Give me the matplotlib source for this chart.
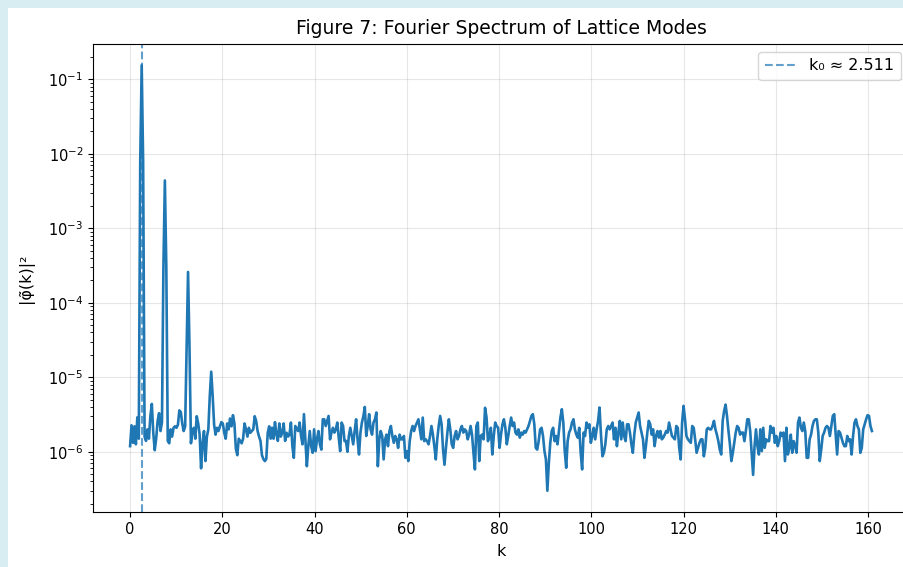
import numpy as np
import matplotlib
matplotlib.use("Agg")
import matplotlib.pyplot as plt
from matplotlib.patches import Rectangle
from matplotlib.ticker import NullFormatter

# grid spacing of the spectrum and marked wavenumber
DK = 0.31416
K0 = 2.511
X_TICKS = [0, 20, 40, 60, 80, 100, 120, 140, 160]
Y_TICKS = [1e-6, 1e-5, 1e-4, 1e-3, 1e-2, 1e-1]

# |phi(k)|^2 values in units of 1e-6 (one per k bin)
seg_a = [1.19, 2.27, 1.32, 2.2, 1.26, 2.9, 1.5, 8000, 155000, 8000,
         1.6, 1.4, 2.0, 1.5, 3.0, 4.4, 1.8, 1.05, 1.5, 2.6,
         3.3, 1.9, 2.5, 300, 4400, 300, 1.4, 1.3, 2.0, 1.6,
         2.1, 2.2, 2.1, 2.3, 3.6, 3.4, 2.4, 1.9, 2.2, 25,
         260, 25, 1.3, 1.9, 2.1, 1.5, 3.0, 2.4, 1.7, 0.6,
         1.3, 1.9, 0.75, 1.6, 2.0, 5.6, 11.9, 5.6, 2.3, 1.7,
         2.1, 1.9, 2.2, 2.5, 2.4, 1.8, 1.5, 2.4, 2.0, 2.8,
         2.2, 3.1, 2.4, 1.1, 0.9, 1.5, 1.4, 1.3, 1.5, 2.4,
         2.0, 1.6, 2.1, 1.8, 1.9, 2.0, 3.0, 2.6, 1.9, 1.6,
         1.4, 0.9, 0.8, 0.75, 0.8, 1.8, 2.2, 1.5, 2.1, 1.5,
         2.5, 1.7, 1.4, 2.4, 1.6, 1.8, 2.4, 1.4, 1.8, 1.6]
seg_b = [1.7, 2.47, 1.19, 0.83, 2.22, 2.0, 1.9, 2.47, 1.63, 1.26,
         3.2, 1.47, 0.64, 1.19, 1.9, 1.19, 0.97, 2.0, 1.02, 1.47,
         1.9, 1.26, 1.07, 2.73, 2.73, 2.22, 2.6, 3.03, 1.47, 1.81,
         2.1, 1.81, 2.0, 2.47, 1.55, 1.02, 2.47, 2.22, 1.39, 1.4,
         1.0, 1.63, 2.1, 1.63, 1.26, 1.9, 2.73, 1.47, 0.92, 1.81,
         2.47, 3.0, 4.0, 1.63, 2.22, 3.2, 2.0, 1.7, 2.47, 2.73]
seg_c = [3.37, 0.64, 1.47, 1.9, 1.63, 0.79, 1.47, 1.7, 1.19, 1.9,
         2.22, 1.63, 1.32, 1.63, 1.47, 1.13, 1.7, 1.47, 1.47, 1.63,
         0.83, 1.02, 0.75, 1.39, 1.9, 2.22, 1.9, 2.22, 2.47, 2.73,
         2.0, 1.47, 2.88, 1.39, 1.47, 1.39, 1.26, 1.63, 2.22, 1.7,
         1.19, 0.79, 1.47, 2.22, 3.03, 2.34, 1.07, 0.67, 1.13, 1.81,
         2.73, 2.0, 1.26, 1.13, 1.63, 1.9, 1.47, 1.63, 2.0, 2.22,
         1.81, 2.0, 1.9, 1.47, 1.7, 2.22, 1.7, 0.97, 0.58, 2.22,
         2.47, 0.75, 1.63, 1.7, 1.47, 3.9, 2.9, 1.39, 1.63, 2.1,
         0.92, 1.63, 2.47, 2.22]
seg_d = [2.1, 1.13, 1.7, 2.34, 2.73, 2.1, 1.26, 1.63, 2.22, 2.88,
         2.22, 2.47, 1.81, 1.7, 2.0, 1.55, 1.81, 1.7, 1.9, 1.81,
         2.0, 2.22, 2.6, 3.03, 3.2, 2.34, 1.13, 1.07, 1.39, 2.0,
         2.1, 1.63, 1.02, 0.79, 0.30, 0.7, 1.32, 1.9, 2.1, 1.39,
         1.63, 1.26, 1.9, 2.88, 3.73, 2.47, 1.02, 0.61, 1.39, 1.81,
         2.0, 2.47, 2.73, 2.0, 1.7, 1.55, 2.1, 0.97, 0.58, 1.81,
         1.63, 2.47, 2.1, 2.34, 1.32, 1.63, 2.1, 1.47, 2.0, 2.6,
         3.93, 1.7, 0.87, 0.97, 1.26, 2.0, 2.22, 2.0, 2.22, 2.47,
         1.47, 2.1, 1.19, 1.81]
seg_e = [2.6, 1.47, 2.47, 1.63, 1.39, 2.34, 2.34, 1.81, 1.26, 0.97,
         1.7, 2.47, 2.88, 3.37, 2.22, 1.81, 1.47, 0.83, 1.19, 1.81,
         2.6, 2.34, 1.7, 2.0, 1.19, 1.63, 1.9, 1.55, 1.9, 1.47,
         1.55, 1.7, 1.9, 1.81, 2.47, 2.0, 1.63, 1.55, 1.47, 2.22,
         2.1, 1.13, 0.79, 2.47, 4.14, 2.73, 1.63, 1.47, 1.39, 1.32,
         2.22, 2.1, 1.47, 0.97, 1.13, 1.32, 1.47, 1.47, 0.87, 1.13,
         2.0, 2.1, 2.0, 2.0, 2.22, 2.6, 2.0, 1.7, 1.39, 1.07,
         0.92, 2.6, 3.54, 4.3, 3.0, 1.9, 1.26, 0.75, 0.97, 1.32,
         1.81, 2.22, 2.1, 1.7]
seg_f = [1.81, 1.81, 1.39, 1.9, 2.73, 2.73, 1.9, 0.97, 0.49, 1.19,
         2.0, 1.19, 0.92, 2.0, 1.02, 2.1, 1.13, 1.47, 1.39, 1.39,
         2.22, 1.81, 2.1, 1.32, 1.63, 1.19, 1.39, 1.81, 1.63, 1.81,
         0.75, 2.1, 0.92, 1.13, 1.7, 0.97, 1.39, 1.19, 0.97, 2.47,
         2.88, 2.1, 1.9, 2.47, 1.9, 0.83, 0.83, 1.47, 1.7, 2.22,
         2.6, 2.73, 2.73, 1.81, 0.75, 1.07, 1.63, 1.81, 2.1, 2.22,
         2.1, 1.63, 2.22, 3.03, 3.2, 1.7, 0.92, 1.9, 1.81, 1.55,
         1.32, 1.19, 1.19, 1.63, 1.39, 1.47, 0.92, 1.63, 2.47, 2.73,
         2.22, 2.0, 0.97, 1.13, 2.0, 2.34, 2.73, 3.1, 3.03, 2.22,
         1.9]

power = np.array(seg_a + seg_b + seg_c + seg_d + seg_e + seg_f) * 1e-6
k = np.arange(len(power)) * DK

fig = plt.figure(figsize=(9.04, 5.67), dpi=100)
fig.patch.set_facecolor('#d8edf2')
fig.add_artist(Rectangle((8 / 904, 0), 1, 1 - 8 / 567, transform=fig.transFigure,
                         facecolor='white', edgecolor='none', zorder=-10))

ax = fig.add_axes([93 / 904, 55 / 567, 816 / 904, 468 / 567])
ax.semilogy(k, power, color='#1f77b4', lw=1.9)
ax.axvline(K0, ls='--', color='#1f77b4', alpha=0.7, lw=1.5, label=f'k₀ ≈ {K0}')
ax.set_xticks(X_TICKS)
ax.set_yticks(Y_TICKS)
ax.yaxis.set_minor_formatter(NullFormatter())
ax.tick_params(labelsize=10.5)
ax.set_title('Figure 7: Fourier Spectrum of Lattice Modes', fontsize=13.5, pad=7)
ax.set_xlabel('k', fontsize=11.5, labelpad=5)
ax.set_ylabel('|φ̃(k)|²', fontsize=11.5, labelpad=10)
ax.grid(True, alpha=0.3)
ax.legend(loc='upper right', fontsize=11.5)

fig.savefig('out.png', dpi=100)
